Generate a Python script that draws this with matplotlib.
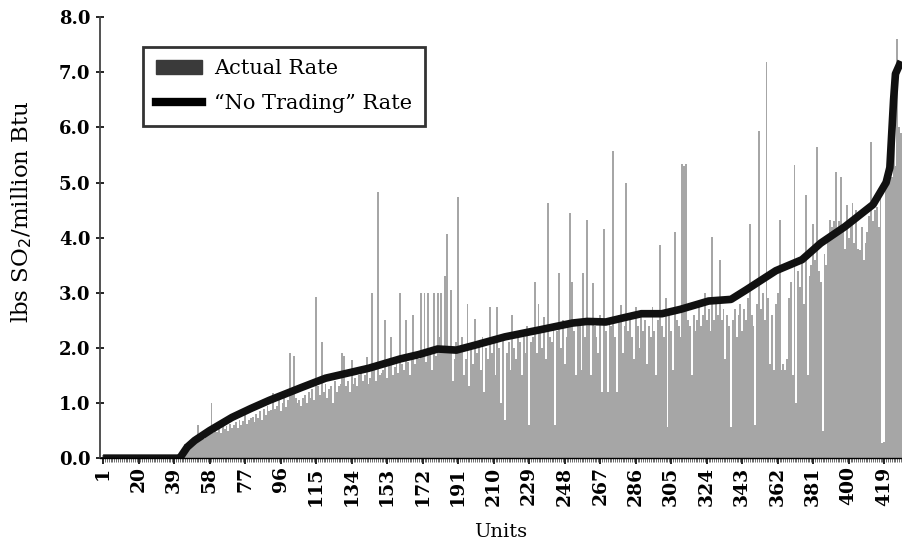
# -*- coding: utf-8 -*-
import numpy as np
import matplotlib.pyplot as plt
from matplotlib.patches import Patch
from matplotlib.lines import Line2D

# actual SO2 emission rate per unit (units sorted by "no trading" rate)
actual_rate = [
    0.05, 0.04, 0.06, 0.05, 0.03, 0.05, 0.06, 0.04, 0.05, 0.05,
    0.04, 0.06, 0.05, 0.05, 0.03, 0.06, 0.05, 0.04, 0.06, 0.05,
    0.05, 0.04, 0.06, 0.05, 0.05, 0.04, 0.06, 0.05, 0.05, 0.04,
    0.06, 0.05, 0.04, 0.05, 0.06, 0.05, 0.04, 0.06, 0.05, 0.05,
    0.08, 0.10, 0.15, 0.20, 0.25, 0.22, 0.30, 0.28, 0.35, 0.30,
    0.32, 0.60, 0.38, 0.40, 0.35, 0.42, 0.45, 0.50, 1.00, 0.45,
    0.50, 0.48, 0.55, 0.45, 0.60, 0.52, 0.58, 0.50, 0.62, 0.55,
    0.60, 0.65, 0.55, 0.70, 0.60, 0.68, 0.82, 0.62, 0.70, 0.72,
    0.75, 0.65, 0.80, 0.72, 0.85, 0.70, 0.90, 0.78, 0.95, 0.85,
    0.88, 1.18, 0.90, 0.95, 1.10, 0.85, 1.00, 1.15, 0.92, 1.05,
    1.90, 1.20, 1.85, 1.10, 1.00, 1.05, 0.95, 1.10, 1.15, 1.00,
    1.20, 1.10, 1.25, 1.05, 2.92, 1.30, 1.15, 2.10, 1.20, 1.35,
    1.10, 1.25, 1.30, 1.00, 1.40, 1.20, 1.30, 1.35, 1.90, 1.85,
    1.30, 1.40, 1.20, 1.78, 1.35, 1.45, 1.30, 1.50, 1.55, 1.40,
    1.50, 1.83, 1.35, 1.45, 3.00, 1.60, 1.40, 4.83, 1.50, 1.55,
    1.60, 2.50, 1.45, 1.70, 2.20, 1.50, 1.65, 1.80, 1.55, 3.00,
    1.70, 1.60, 2.50, 1.75, 1.50, 1.85, 2.60, 1.70, 1.90, 1.80,
    3.00, 1.90, 3.00, 1.75, 3.00, 2.00, 1.60, 3.00, 1.85, 3.00,
    2.20, 3.00, 1.90, 3.30, 4.07, 2.00, 3.05, 1.40, 1.80, 2.10,
    4.74, 1.90, 2.20, 1.50, 1.80, 2.80, 1.30, 2.00, 1.70, 2.53,
    1.90, 2.10, 1.60, 2.20, 1.20, 2.00, 1.80, 2.75, 1.90, 2.10,
    1.50, 2.75, 2.00, 1.00, 2.20, 0.70, 1.90, 2.10, 1.60, 2.60,
    2.00, 1.80, 2.30, 2.10, 1.50, 2.20, 1.90, 2.40, 0.60, 2.10,
    2.20, 3.20, 1.90, 2.80, 2.30, 2.00, 2.56, 1.80, 4.62, 2.20,
    2.10, 2.40, 0.60, 2.30, 3.35, 2.00, 2.50, 1.70, 2.20, 2.40,
    4.44, 3.20, 2.30, 1.50, 2.50, 2.40, 1.60, 3.35, 2.20, 4.32,
    2.50, 1.50, 3.17, 2.40, 2.20, 1.90, 2.60, 1.20, 4.16, 2.30,
    1.20, 2.50, 2.40, 5.58, 2.20, 1.20, 2.60, 2.78, 1.90, 2.40,
    5.00, 2.30, 2.50, 2.20, 1.80, 2.75, 2.40, 2.00, 2.56, 2.30,
    2.50, 1.70, 2.40, 2.20, 2.75, 2.30, 1.50, 2.50, 3.86, 2.40,
    2.20, 2.90, 0.57, 2.60, 2.30, 1.60, 4.10, 2.50, 2.40, 2.20,
    5.34, 5.30, 5.34, 2.50, 2.40, 1.50, 2.60, 2.30, 2.50, 2.75,
    2.40, 2.60, 3.00, 2.50, 2.70, 2.30, 4.01, 2.50, 2.80, 2.60,
    3.59, 2.50, 2.70, 1.80, 2.60, 2.40, 0.57, 2.50, 2.70, 2.20,
    2.60, 2.80, 2.30, 2.70, 2.50, 2.90, 4.25, 2.60, 2.40, 0.60,
    2.80, 5.94, 2.70, 3.00, 2.50, 7.18, 2.90, 1.70, 2.60, 1.60,
    2.80, 3.00, 4.32, 1.60, 1.70, 1.60, 1.80, 2.90, 3.20, 1.50,
    5.31, 1.00, 3.40, 3.10, 3.60, 2.80, 4.77, 1.50, 3.30, 3.50,
    4.25, 3.60, 5.64, 3.40, 3.20, 0.50, 3.70, 3.50, 4.00, 4.32,
    4.20, 4.30, 5.19, 4.10, 4.30, 5.10, 4.20, 3.80, 4.60, 4.00,
    4.30, 4.62, 3.90, 4.50, 3.80, 3.77, 4.20, 3.60, 3.90, 4.10,
    4.40, 5.73, 4.30, 4.50, 4.56, 4.20, 4.90, 0.27, 0.30, 5.00,
    5.20, 5.58, 5.10, 5.70, 5.30, 7.60, 6.00, 5.90,
]

# "no trading" rate read at a few points along the curve
nt_units = [1, 42, 46, 50, 58, 70, 80, 90, 107, 120, 143, 160, 170, 180,
            190, 200, 216, 235, 252, 260, 270, 280, 289, 300, 310, 325, 337,
            345, 361, 375, 385, 398, 413, 420, 422, 424, 425, 428]
nt_rate = [0.0, 0.0, 0.2, 0.32, 0.5, 0.74, 0.9, 1.05, 1.28, 1.45, 1.63, 1.8,
           1.88, 1.98, 1.96, 2.05, 2.2, 2.33, 2.45, 2.48, 2.47, 2.55, 2.62,
           2.62, 2.7, 2.85, 2.88, 3.05, 3.4, 3.6, 3.9, 4.2, 4.6, 5.0, 5.27,
           6.5, 6.97, 7.2]

tick_units = list(range(1, 420, 19))
y_ticks = [0, 1, 2, 3, 4, 5, 6, 7, 8]

plt.rcParams['font.family'] = ['DejaVu Serif']

fig = plt.figure(figsize=(9.02, 5.52), dpi=100)
ax = fig.add_axes([0.111, 0.170, 0.889, 0.799])

units = np.arange(1, len(actual_rate) + 1)
ax.bar(units, actual_rate, width=1.0, color='#a6a6a6', linewidth=0)
ax.plot(nt_units, nt_rate, color='#111111', lw=5.5, solid_capstyle='butt',
        solid_joinstyle='round')

ax.set_xlim(-0.6, 428.5)
ax.set_ylim(0, 8)
ax.set_yticks(y_ticks)
ax.set_yticklabels(['%.1f' % v for v in y_ticks], fontsize=13, fontweight='bold')
ax.set_xticks(tick_units)
ax.set_xticklabels([str(u) for u in tick_units], rotation=90, fontsize=13.5,
                   fontweight='bold')
ax.set_xticks(units, minor=True)
ax.tick_params(axis='x', which='minor', length=3, width=0.6, color='#555555')
ax.tick_params(axis='x', which='major', length=4, width=1.2, pad=2)
ax.tick_params(axis='y', length=6, width=1.2, direction='inout', pad=4)

for s in ['top', 'right']:
    ax.spines[s].set_visible(False)
ax.spines['left'].set_linewidth(1.3)
ax.spines['left'].set_color('#444444')
ax.spines['bottom'].set_linewidth(1.0)

ax.set_xlabel('Units', fontsize=14, labelpad=12)
ax.set_ylabel('lbs SO$_2$/million Btu', fontsize=16.5)
ax.yaxis.set_label_coords(-0.083, 0.56)

handles = [Patch(facecolor='#3a3a3a', edgecolor='#3a3a3a'),
           Line2D([0], [0], color='black', lw=6)]
leg = fig.legend(handles, ['Actual Rate', '\u201cNo Trading\u201d Rate'],
                 loc='upper left', bbox_to_anchor=(0.159, 0.915),
                 fontsize=15, frameon=True, fancybox=False,
                 handlelength=2.2, handleheight=0.6, borderpad=0.6,
                 labelspacing=0.75, borderaxespad=0, handletextpad=0.6)
leg.get_frame().set_edgecolor('black')
leg.get_frame().set_linewidth(2)

fig.savefig('out.png', dpi=100)
